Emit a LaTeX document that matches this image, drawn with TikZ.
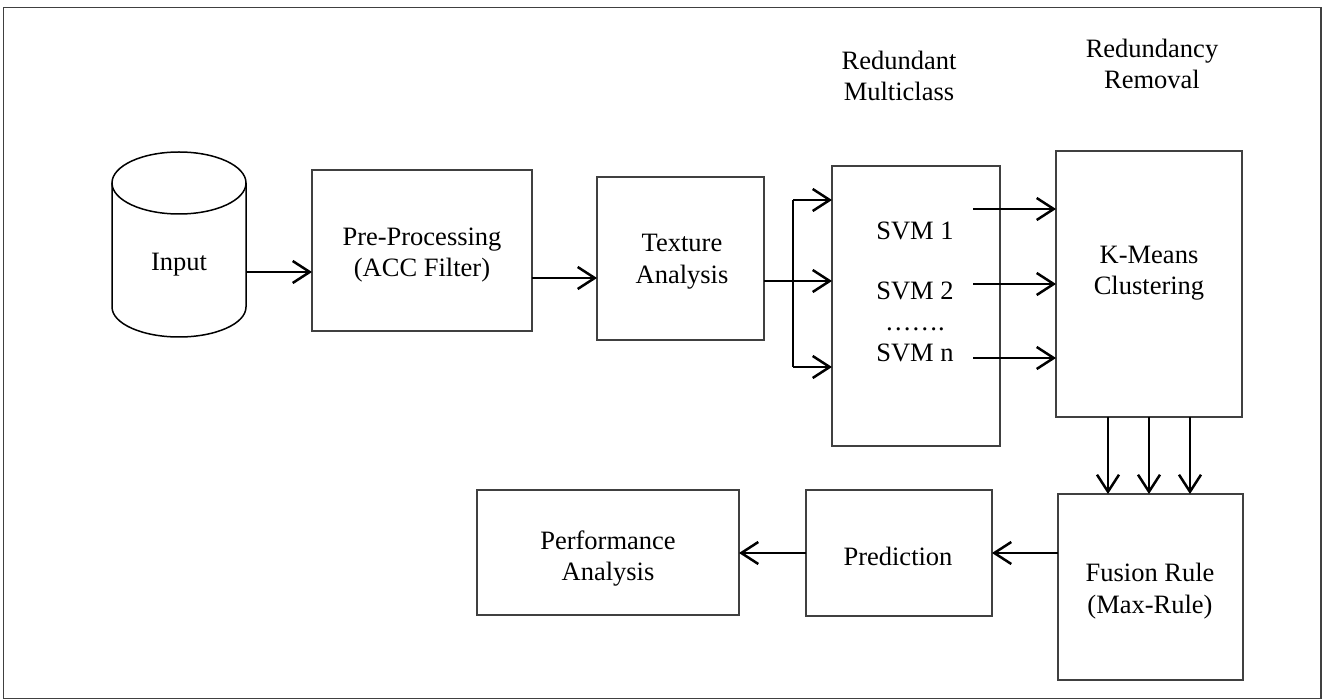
\documentclass[tikz,border=0pt]{standalone}
\usepackage{fontspec}
\setmainfont{Liberation Serif}
\usetikzlibrary{arrows.meta,calc}
\begin{document}
\begin{tikzpicture}[x=1pt,y=-1pt,
  box/.style={draw=black!75, line width=1.6pt, inner sep=0pt, outer sep=0pt, rectangle},
  lbl/.style={font=\fontsize{26.5}{31.5}\selectfont, align=center, inner sep=0pt},
  arr/.style={line width=2.5pt, -{Straight Barb[length=17pt,width=22pt]}},
  fork/.style={line width=1.8pt},
  cyl/.style={line width=1.5pt}
]
\useasboundingbox (0,0) rectangle (1323,700);
\draw[black!75, line width=1.5pt] (3.5,7.5) rectangle (1321,698.5);

% input cylinder
\node[minimum width=134pt, minimum height=185pt, inner sep=0pt, outer sep=0pt] (inp) at (179,244.5) {};
\draw[cyl] ([yshift=-31pt]inp.north) ellipse [x radius=67pt, y radius=31pt];
\draw[cyl] ([yshift=-31pt]inp.north west) -- ([yshift=30pt]inp.south west)
  arc[start angle=180, end angle=360, x radius=67pt, y radius=30pt] -- ([yshift=-31pt]inp.north east);

% boxes
\node[box, minimum width=220pt, minimum height=161pt] (pre) at (422,250.5) {};
\node[box, minimum width=167pt, minimum height=163pt] (tex) at (680.5,258.5) {};
\node[box, minimum width=168pt, minimum height=280pt] (svm) at (916,306) {};
\node[box, minimum width=186pt, minimum height=266pt] (km) at (1149,284) {};
\node[box, minimum width=185pt, minimum height=186pt] (fus) at (1150.5,587) {};
\node[box, minimum width=186pt, minimum height=126pt] (pred) at (899,553) {};
\node[box, minimum width=262pt, minimum height=125pt] (perf) at (608,552.5) {};

% labels
\node[lbl, anchor=base] (inpT) at (179,271) {Input};
\node[lbl] (preT) at (422,255) {Pre-Processing\\(ACC Filter)};
\node[lbl] (texT) at (682,261.5) {Texture\\Analysis};
\node[lbl, anchor=base] (s1) at (915,240) {SVM 1};
\node[lbl, anchor=base] (s2) at (915,300) {SVM 2};
\node[lbl, anchor=base] (sd) at (915,331) {…….};
\node[lbl, anchor=base] (sn) at (915,362) {SVM n};
\node[lbl] (kmT) at (1149,273) {K-Means\\Clustering};
\node[lbl] (fusT) at (1150,591) {Fusion Rule\\(Max-Rule)};
\node[lbl, anchor=base] (predT) at (898,565) {Prediction};
\node[lbl] (perfT) at (608,558.5) {Performance\\Analysis};
\node[lbl] (rm) at (899,76) {Redundant\\Multiclass};
\node[lbl] (rr) at (1152,64) {Redundancy\\Removal};

% connectors
\coordinate (a1) at ([yshift=-27.5pt]inp.east);
\draw[arr] (a1) -- (a1 -| pre.west);
\coordinate (a2) at ([yshift=-27.5pt]pre.east);
\draw[arr] (a2) -- (a2 -| tex.west);

\coordinate (fk) at ($(tex.east)+(29,22.5)$);
\coordinate (ft) at ($(fk)+(0,-81)$);
\coordinate (fb) at ($(fk)+(0,86)$);
\draw[fork] (tex.east |- fk) -- (fk);
\draw[fork] (ft) -- (fb);
\draw[arr] (ft) -- (ft -| svm.west);
\draw[arr] (fk) -- (fk -| svm.west);
\draw[arr] (fb) -- (fb -| svm.west);

\coordinate (o1) at ($(svm.north east)+(-27,43)$);
\coordinate (o2) at ($(svm.north east)+(-27,118)$);
\coordinate (o3) at ($(svm.north east)+(-27,192)$);
\draw[arr] (o1) -- (o1 -| km.west);
\draw[arr] (o2) -- (o2 -| km.west);
\draw[arr] (o3) -- (o3 -| km.west);

\coordinate (d1) at ($(km.south west)+(52,0)$);
\coordinate (d2) at ($(km.south west)+(93,0)$);
\coordinate (d3) at ($(km.south west)+(134,0)$);
\draw[arr] (d1) -- (d1 |- fus.north);
\draw[arr] (d2) -- (d2 |- fus.north);
\draw[arr] (d3) -- (d3 |- fus.north);

\coordinate (e1) at ($(fus.north west)+(0,59)$);
\draw[arr] (e1) -- (e1 -| pred.east);
\coordinate (e2) at (pred.west |- e1);
\draw[arr] (e2) -- (e2 -| perf.east);
\end{tikzpicture}
\end{document}
